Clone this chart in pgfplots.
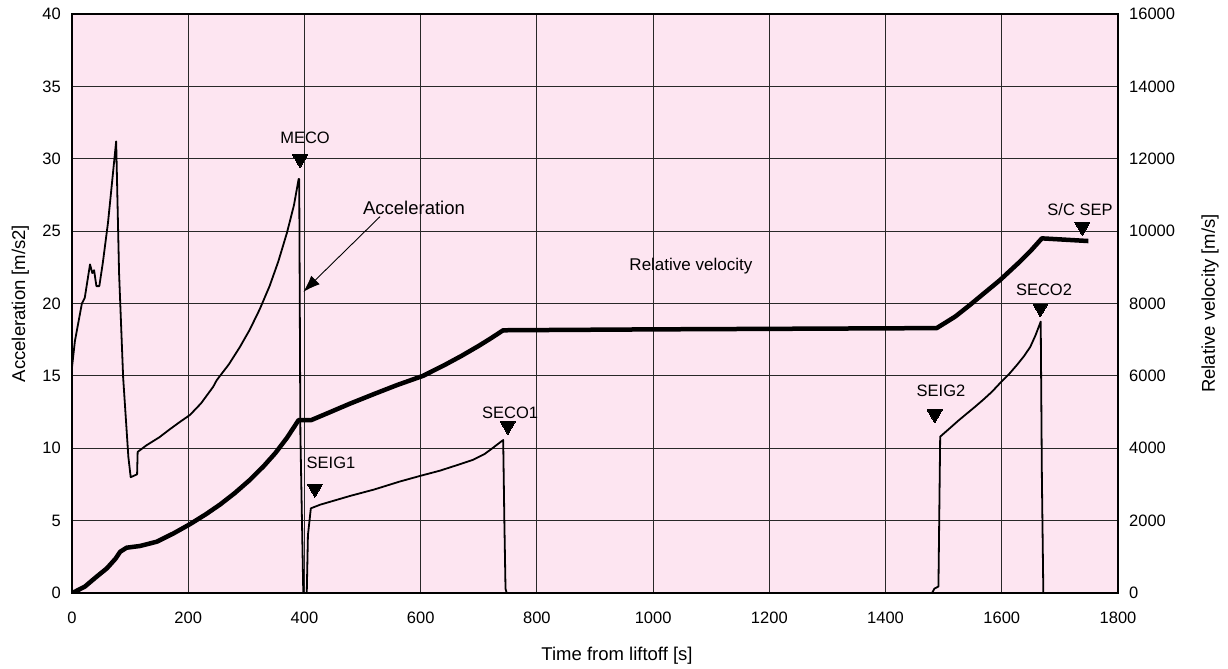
\documentclass[border=0pt]{standalone}
\usepackage{fontspec}
\setmainfont{Liberation Sans}
\usepackage{pgfplots}
\usepackage{pgfplotstable}
\pgfplotsset{compat=1.18}
\usetikzlibrary{arrows.meta}

\definecolor{bgpink}{RGB}{253,229,241}
\definecolor{gridgray}{RGB}{40,40,40}

% Acceleration [m/s2] versus time from liftoff [s]
\pgfplotstableread{
t      a
0      15.6
5      17.4
17     20.0
22     20.4
31     22.7
35     22.1
38     22.3
42     21.2
47     21.2
53     22.8
62     25.6
76     31.2
81     22.1
88     14.9
97     9.4
101    8.0
112    8.2
113    9.75
128    10.2
150    10.75
168    11.3
185    11.8
203    12.3
222    13.1
243    14.25
249    14.7
270    15.8
289    17.0
306    18.2
323    19.6
340    21.2
355    22.9
370    24.9
382    26.8
390    28.6
391    28.6
393    11.0
398    0
404    0
406    4.0
411    5.85
427    6.1
478    6.7
520    7.15
564    7.7
600    8.1
633    8.45
660    8.8
690    9.2
710    9.6
725    10.05
742    10.57
744    5.0
746    0.3
748    0
1480   0
1484   0.3
1491   0.45
1494   10.8
1511   11.4
1525   11.9
1540   12.4
1555   12.9
1568   13.35
1583   13.9
1597   14.5
1612   15.1
1626   15.75
1638   16.35
1649   17.0
1658   17.8
1667   18.75
1669   8.0
1671.5 0
1700   0
}\acctable

% Relative velocity [m/s] versus time from liftoff [s]
\pgfplotstableread{
t      v
0      0
5      36
22     175
40     420
60     682
75     950
83     1141
94     1252
117    1299
146    1418
175    1650
203    1902
230    2172
255    2447
280    2760
306    3124
330    3508
350    3868
370    4290
390    4780
412    4780
440    4970
478    5230
520    5500
560    5750
604    6000
640    6290
670    6550
700    6830
720    7030
742    7260
1000   7285
1488   7320
1520   7640
1545   7957
1570   8290
1597   8648
1631   9154
1650   9460
1669   9800
1749   9726
}\veltable

% Flight events: marker position
\pgfplotstableread{
t      a
392.4  29.97
418    7.21
750    11.54
1484.6 12.35
1666.4 19.67
1738.6 25.29
}\eventtable

\begin{document}
\begin{tikzpicture}[font=\fontsize{16.5}{19.5}\selectfont]
\begin{axis}[
  name=acc,
  width=1046pt, height=579pt, scale only axis,
  xmin=0, xmax=1800, ymin=0, ymax=40,
  xtick={0,200,...,1800}, ytick={0,5,...,40},
  scaled ticks=false,
  /pgf/number format/1000 sep={},
  /pgf/number format/assume math mode=true,
  grid=major,
  major grid style={gridgray, line width=1pt},
  axis background/.style={fill=bgpink},
  axis line style={line width=2.5pt},
  tick style={draw=none},
  xticklabel style={anchor=north, inner sep=0pt, yshift=-19pt},
  yticklabel style={anchor=east, inner sep=0pt, xshift=-11pt},
  xlabel={Time from liftoff [s]},
  ylabel={Acceleration [m/s2]},
  label style={font=\fontsize{18.5}{22}\selectfont},
  xlabel style={at={(axis description cs:0.5,0)}, anchor=base, xshift=22pt, yshift=-67.5pt},
  ylabel style={at={(axis description cs:-0.0449,0.5)}, anchor=base},
  clip=false,
]
\addplot[black, line width=1.8pt, line join=round] table[x=t, y=a] {\acctable};
\addplot[only marks, mark=triangle*, mark size=8.5pt,
  mark options={rotate=180, fill=black, draw=black, line width=0pt}]
  table[x=t, y=a] {\eventtable};

% event names
\node[anchor=base] at (axis cs:401,31.03) {MECO};
\node[anchor=base] at (axis cs:445.7,8.57) {SEIG1};
\node[anchor=base] at (axis cs:754,12.05) {SECO1};
\node[anchor=base] at (axis cs:1495.4,13.57) {SEIG2};
\node[anchor=base] at (axis cs:1672.7,20.52) {SECO2};
\node[anchor=base] at (axis cs:1734.6,26.05) {S/C SEP};

% curve annotations
\node[anchor=base, font=\fontsize{18.5}{22}\selectfont] at (axis cs:588.5,26.12) {Acceleration};
\draw[black, line width=0.9pt, -{Latex[length=17pt,width=12pt]}]
  (axis cs:530,26.0) -- (axis cs:398,20.8);
\node[anchor=base, font=\fontsize{17}{20}\selectfont] at (axis cs:1065,22.25) {Relative velocity};
\end{axis}

\begin{axis}[
  width=1046pt, height=579pt, scale only axis,
  xmin=0, xmax=1800, ymin=0, ymax=16000,
  axis x line=none, axis y line*=right,
  ytick={0,2000,...,16000},
  scaled ticks=false,
  /pgf/number format/1000 sep={},
  /pgf/number format/assume math mode=true,
  axis line style={line width=2.5pt},
  tick style={draw=none},
  yticklabel style={anchor=west, inner sep=0pt, xshift=11pt},
  ylabel={Relative velocity [m/s]},
  label style={font=\fontsize{18.5}{22}\selectfont},
  ylabel style={at={(axis description cs:1.0927,0.5)}, anchor=base, rotate=0},
]
\addplot[black, line width=4.5pt, line join=round] table[x=t, y=v] {\veltable};
\end{axis}

\pgfresetboundingbox
\path ([xshift=-72pt,yshift=-75pt]acc.south west) rectangle ([xshift=110pt,yshift=14pt]acc.north east);
\end{tikzpicture}
\end{document}
